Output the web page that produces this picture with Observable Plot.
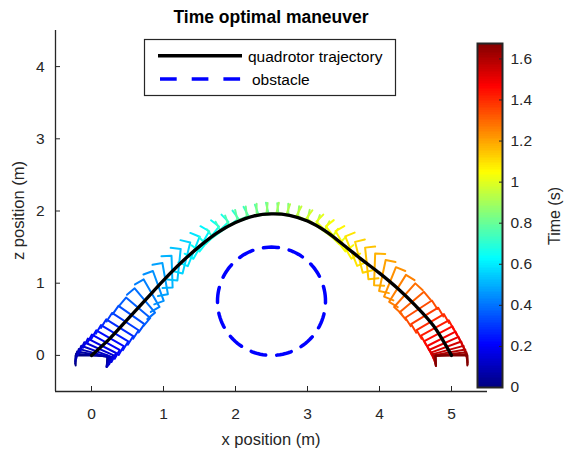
<!DOCTYPE html>
<html><head><meta charset="utf-8">
<script src="https://cdn.jsdelivr.net/npm/d3@7"></script>
<script src="https://cdn.jsdelivr.net/npm/@observablehq/plot@0.6"></script>
<style>
body{margin:0;background:#fff;}
#wrap{position:relative;width:565px;height:453px;overflow:hidden;font-family:"Liberation Sans",Arial,sans-serif;background:#fff;}
#wrap > svg{position:absolute;}
</style></head><body><div id="wrap"></div>
<script>
// ---- data ----
const trajX = [0,0.25,0.5,0.75,1.0,1.25,1.5,1.75,2.0,2.25,2.5,2.75,3.0,3.25,3.5,3.75,4.0,4.25,4.5,4.75,5.0];
const trajZ = [0,0.23,0.5,0.77,1.04,1.29,1.51,1.70,1.84,1.93,1.96,1.94,1.86,1.72,1.53,1.33,1.14,0.93,0.69,0.41,0];

const quadT = [0,0.028,0.056,0.084,0.112,0.140,0.168,0.195,0.223,0.251,0.279,0.307,0.335,0.363,0.391,0.419,0.447,0.475,0.503,0.530,0.558,0.586,0.614,0.642,0.670,0.698,0.726,0.754,0.782,0.810,0.838,0.865,0.893,0.921,0.949,0.977,1.005,1.033,1.061,1.089,1.117,1.145,1.173,1.200,1.228,1.256,1.284,1.312,1.340,1.368,1.396,1.424,1.452,1.480,1.508,1.535,1.563,1.591,1.619,1.647,1.675];
const quadX = [0,0.004,0.016,0.036,0.065,0.101,0.145,0.198,0.257,0.321,0.392,0.470,0.555,0.648,0.741,0.835,0.928,1.023,1.119,1.216,1.318,1.420,1.525,1.635,1.744,1.863,1.983,2.111,2.241,2.376,2.513,2.650,2.785,2.917,3.044,3.164,3.280,3.390,3.499,3.607,3.714,3.823,3.932,4.040,4.146,4.251,4.350,4.449,4.543,4.627,4.705,4.769,4.817,4.860,4.897,4.929,4.954,4.975,4.989,4.997,5.000];
const quadZ = [0,0.004,0.015,0.033,0.059,0.093,0.133,0.182,0.238,0.307,0.383,0.468,0.560,0.660,0.761,0.862,0.962,1.063,1.159,1.256,1.349,1.440,1.529,1.612,1.696,1.763,1.831,1.880,1.927,1.945,1.959,1.948,1.929,1.887,1.836,1.768,1.697,1.614,1.531,1.444,1.359,1.274,1.191,1.107,1.018,0.929,0.834,0.739,0.641,0.547,0.461,0.379,0.300,0.230,0.168,0.117,0.075,0.042,0.019,0.004,0];
// thrust pitch, degrees clockwise from upright
const quadPitch = [0,5,10,15,20,24,27,29,30,31,32,33,35,40,50,60,70,80,88,96,104,112,120,128,136,144,152,160,167,174,180,186,193,200,208,216,224,232,240,248,256,264,272,282,292,302,312,320,327,329,330,331,332,333,336,340,345,350,354,357,360];

const obstacleCenter = [2.5, 0.75];
const obstacleRadius = 0.75;

const xTicks = [0,1,2,3,4,5];
const zTicks = [0,1,2,3,4];
const timeTicks = [0,0.2,0.4,0.6,0.8,1,1.2,1.4,1.6];
const tFinal = 1.675;

// quadrotor drawing geometry (m); legs drawn opposite to thrust
const armHalf = 0.22, legLen = -0.14;

// ---- derived tables ----
const quadRows = [];
quadT.forEach((t, k) => {
  const a = quadPitch[k] * Math.PI / 180;
  const ux = Math.sin(a), uz = Math.cos(a);   // thrust direction
  const bx = Math.cos(a), bz = -Math.sin(a);  // body direction
  const px = quadX[k], pz = quadZ[k];
  const pts = [
    [px - armHalf*bx + legLen*ux, pz - armHalf*bz + legLen*uz],
    [px - armHalf*bx, pz - armHalf*bz],
    [px + armHalf*bx, pz + armHalf*bz],
    [px + armHalf*bx + legLen*ux, pz + armHalf*bz + legLen*uz]
  ];
  pts.forEach(([x, z]) => quadRows.push({k, t, x, z}));
});
const trajRows = trajX.map((x, i) => ({x, z: trajZ[i]}));
const circleRows = d3.range(0, 361, 3).map(deg => ({
  x: obstacleCenter[0] + obstacleRadius * Math.cos(deg * Math.PI / 180),
  z: obstacleCenter[1] + obstacleRadius * Math.sin(deg * Math.PI / 180)
}));

const jetStops = [0, 0.125, 0.375, 0.625, 0.875, 1];
const colorScale = {
  type: "linear",
  domain: jetStops.map(s => s * tFinal),
  range: ["#000080","#0000ff","#00ffff","#ffff00","#ff0000","#800000"],
  interpolate: "rgb",
  clamp: true
};
const axisColor = "#262626";
const font = "'Liberation Sans', Arial, sans-serif";

const main = Plot.plot({
  width: 565, height: 453,
  marginLeft: 55, marginRight: 78, marginTop: 30, marginBottom: 62,
  x: {domain: [-0.5, 5.5]},
  y: {domain: [-0.5, 4.5]},
  color: colorScale,
  style: {fontFamily: font, fontSize: "15.5px", color: axisColor, background: "transparent"},
  marks: [
    Plot.line(quadRows, {x: "x", y: "z", z: "k", stroke: "t", strokeWidth: 2, curve: "linear"}),
    Plot.line(trajRows, {x: "x", y: "z", stroke: "black", strokeWidth: 3.3, curve: "catmull-rom"}),
    Plot.line(circleRows, {x: "x", y: "z", stroke: "#0000ff", strokeWidth: 3.5, strokeDasharray: "15,11"}),
    Plot.ruleX([-0.5], {stroke: axisColor, strokeWidth: 1.3}),
    Plot.ruleY([-0.5], {stroke: axisColor, strokeWidth: 1.3}),
    Plot.axisX({ticks: xTicks, tickSize: -5, tickPadding: 21, label: null, stroke: axisColor, fill: axisColor, tickFormat: d => String(d)}),
    Plot.axisY({ticks: zTicks, tickSize: -5, tickPadding: 16, label: null, stroke: axisColor, fill: axisColor, tickFormat: d => String(d)})
  ]
});
main.style.left = "0px"; main.style.top = "0px";

const nSteps = 200;
const step = tFinal / nSteps;
const cbRows = d3.range(0, nSteps).map(i => i * step);
const cb = Plot.plot({
  width: 98, height: 453,
  marginLeft: 10, marginRight: 63, marginTop: 43, marginBottom: 66,
  x: {axis: null},
  y: {domain: [0, tFinal]},
  color: colorScale,
  style: {fontFamily: font, fontSize: "15.5px", color: axisColor, background: "transparent"},
  marks: [
    Plot.rect(cbRows, {y1: d => d, y2: d => Math.min(tFinal, d + step * 2.5), fill: d => d + step / 2, shapeRendering: "crispEdges"}),
    Plot.frame({stroke: axisColor, strokeWidth: 2}),
    Plot.axisY({anchor: "right", ticks: timeTicks, tickSize: -4, tickPadding: 12, label: null, stroke: axisColor, fill: axisColor, tickFormat: d => String(+d.toFixed(1))})
  ]
});
cb.style.left = "467px"; cb.style.top = "0px";

const wrap = document.getElementById("wrap");
wrap.appendChild(main);
wrap.appendChild(cb);

const ns = "http://www.w3.org/2000/svg";
const over = document.createElementNS(ns, "svg");
over.setAttribute("width", 565); over.setAttribute("height", 453);
over.style.left = "0px"; over.style.top = "0px";
over.style.fontFamily = font;
over.innerHTML = `
  <text x="271" y="23" text-anchor="middle" font-weight="bold" font-size="17.5px" fill="#000">Time optimal maneuver</text>
  <text x="271" y="445" text-anchor="middle" font-size="16.5px" fill="${axisColor}">x position (m)</text>
  <text transform="translate(24,210.5) rotate(-90)" text-anchor="middle" font-size="16.5px" fill="${axisColor}">z position (m)</text>
  <text transform="translate(560,216) rotate(-90)" text-anchor="middle" font-size="16px" fill="${axisColor}">Time (s)</text>
  <rect x="144.5" y="39.5" width="251" height="56" fill="#fff" stroke="${axisColor}" stroke-width="1.2"/>
  <line x1="158" x2="242" y1="55.7" y2="55.7" stroke="#000" stroke-width="3.5"/>
  <line x1="160" x2="242" y1="79" y2="79" stroke="#0000ff" stroke-width="3.5" stroke-dasharray="16.7,15"/>
  <text x="248" y="61.5" font-size="15.5px" fill="#000">quadrotor trajectory</text>
  <text x="252" y="85" font-size="15.5px" fill="#000">obstacle</text>
`;
wrap.appendChild(over);
</script>
</body></html>
